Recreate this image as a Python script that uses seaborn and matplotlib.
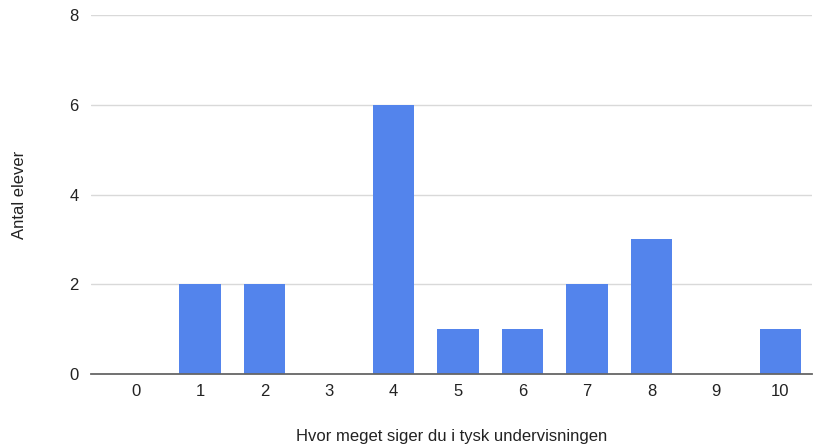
import matplotlib
matplotlib.use("Agg")
import matplotlib.pyplot as plt
import seaborn as sns
import pandas as pd

categories = ['0', '1', '2', '3', '4', '5', '6', '7', '8', '9', '10']
counts = [0, 2, 2, 0, 6, 1, 1, 2, 3, 0, 1]
y_ticks = [0, 2, 4, 6, 8]

df = pd.DataFrame({'score': categories, 'count': counts})

sns.set_theme(style="white")
plt.rcParams['font.family'] = ['Liberation Sans', 'DejaVu Sans']

fig = plt.figure(figsize=(8.15, 4.48), dpi=100)
ax = fig.add_axes([0.1117, 0.165, 0.8846, 0.8015])

sns.barplot(data=df, x='score', y='count', order=categories, color='#5384ec',
            saturation=1, width=0.64, linewidth=0, ax=ax, zorder=3)

ax.set_xlim(-0.69, 10.49)
ax.set_ylim(0, 8)
ax.set_yticks(y_ticks)
ax.yaxis.grid(True, color='#d9d9d9', linewidth=1)
ax.set_axisbelow(True)
for s in ['top', 'right', 'left']:
    ax.spines[s].set_visible(False)
ax.spines['bottom'].set_color('#666666')
ax.spines['bottom'].set_linewidth(1.3)
ax.spines['bottom'].set_zorder(4)
ax.tick_params(axis='both', length=0, labelsize=12, colors='#222222')
ax.tick_params(axis='x', pad=7)
ax.tick_params(axis='y', pad=9)

ax.set_xlabel('Hvor meget siger du i tysk undervisningen', fontsize=12, color='#222222', labelpad=22)
ax.set_ylabel('Antal elever', fontsize=12, color='#222222', labelpad=30)

fig.savefig('out.png', dpi=100)
